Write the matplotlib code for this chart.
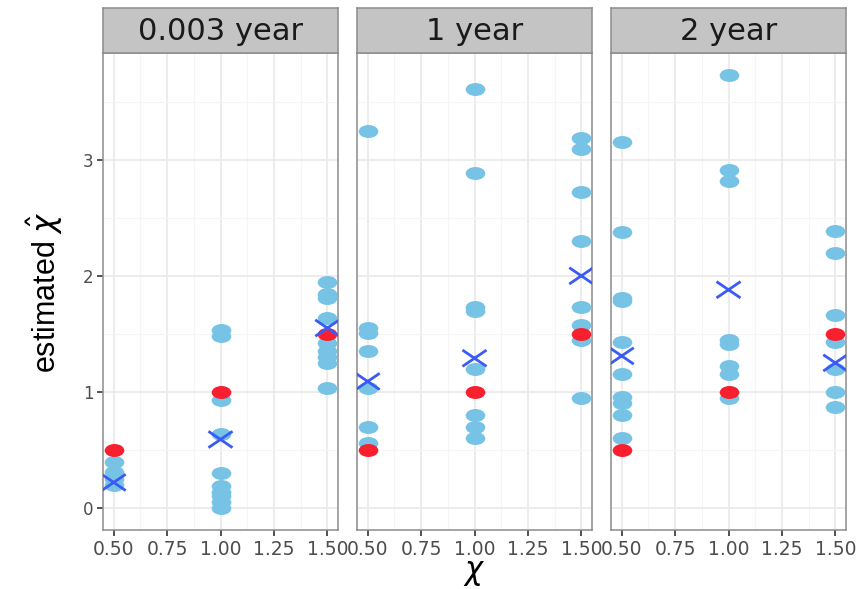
import matplotlib.pyplot as plt
from matplotlib.path import Path
import numpy as np

# facet labels and the true chi levels on the x axis
periods = ["0.003 year", "1 year", "2 year"]
chi_levels = [0.5, 1.0, 1.5]
x_ticks = [0.50, 0.75, 1.00, 1.25, 1.50]
x_ticklabels = ["0.50", "0.75", "1.00", "1.25", "1.50"]
y_ticks = [0, 1, 2, 3]

# estimated chi from each replicate, one list per chi level
est_0003 = [
    [0.40, 0.31, 0.25, 0.20],
    [1.53, 1.48, 0.93, 0.64, 0.30, 0.19, 0.14, 0.10, 0.05, 0.00],
    [1.95, 1.84, 1.81, 1.64, 1.42, 1.35, 1.30, 1.25, 1.03],
]
est_1 = [
    [3.25, 1.55, 1.51, 1.35, 1.03, 0.70, 0.56],
    [3.61, 2.89, 1.73, 1.70, 1.20, 0.80, 0.70, 0.60],
    [3.19, 3.09, 2.72, 2.30, 1.73, 1.58, 1.45, 0.95],
]
est_2 = [
    [3.15, 2.38, 1.81, 1.78, 1.43, 1.15, 0.96, 0.90, 0.80, 0.60],
    [3.73, 2.91, 2.82, 1.45, 1.41, 1.22, 1.15, 0.95],
    [2.39, 2.20, 1.66, 1.43, 1.20, 1.00, 0.87],
]
estimates = [est_0003, est_1, est_2]

# summary estimate (cross) per chi level
summary_0003 = [0.22, 0.59, 1.55]
summary_1 = [1.09, 1.29, 2.00]
summary_2 = [1.31, 1.88, 1.25]
summaries = [summary_0003, summary_1, summary_2]

# slightly flattened ellipse and cross markers
circ = Path.unit_circle()
ellipse = Path(circ.vertices * np.array([1.0, 0.66]), circ.codes)
cross = Path([(-1, -0.68), (1, 0.68), (-1, 0.68), (1, -0.68)],
             [Path.MOVETO, Path.LINETO, Path.MOVETO, Path.LINETO])

W, H = 857, 589
fig = plt.figure(figsize=(W / 100, H / 100), dpi=100)

lefts = [103, 357, 611]
pw = 235
top, bottom, strip_h = 53, 530, 45

for i, (period, est, summ) in enumerate(zip(periods, estimates, summaries)):
    ax = fig.add_axes([lefts[i] / W, 1 - bottom / H, pw / W, (bottom - top) / H])
    ax.set_xlim(0.45, 1.55)
    ax.set_ylim(-0.19, 3.92)
    ax.set_xticks(x_ticks)
    ax.set_xticklabels(x_ticklabels)
    ax.set_xticks([0.625, 0.875, 1.125, 1.375], minor=True)
    ax.set_yticks(y_ticks)
    ax.set_yticks([0.5, 1.5, 2.5, 3.5], minor=True)
    ax.grid(which="major", color="#EBEBEB", lw=1.3)
    ax.grid(which="minor", color="#F5F5F5", lw=0.8)
    ax.set_axisbelow(True)
    ax.tick_params(which="minor", length=0)
    ax.tick_params(which="major", length=4, width=1.2, color="#333333",
                   labelcolor="#4D4D4D")
    ax.tick_params(axis="x", labelsize=13.5, pad=3)
    ax.tick_params(axis="y", labelsize=12, pad=3)
    if i > 0:
        ax.tick_params(axis="y", left=False, labelleft=False)
    for s in ax.spines.values():
        s.set_color("#8C8C8C")
        s.set_linewidth(1.1)

    for chi, vals in zip(chi_levels, est):
        ax.scatter([chi] * len(vals), vals, marker=ellipse, s=200,
                   color="#76C3E6", lw=0, zorder=3)
    ax.scatter(chi_levels, chi_levels, marker=ellipse, s=200,
               color="#F8202E", lw=0, zorder=4)
    ax.scatter(chi_levels, summ, marker=cross, s=300, facecolor="none",
               edgecolor="#3A5BF5", lw=2.0, zorder=5)

    # facet strip
    sx = fig.add_axes([lefts[i] / W, 1 - top / H, pw / W, strip_h / H])
    sx.set_facecolor("#C4C4C4")
    sx.set_xticks([])
    sx.set_yticks([])
    for s in sx.spines.values():
        s.set_color("#8C8C8C")
        s.set_linewidth(1.1)
    sx.text(0.5, 0.47, period, ha="center", va="center", fontsize=22,
            color="#1A1A1A", transform=sx.transAxes)

fig.text(474 / W, 1 - 579 / H, r"$\chi$", ha="center", va="baseline",
         fontsize=22, color="black")
fig.text(45 / W, 1 - 292 / H, r"estimated $\hat{\chi}$", ha="center",
         va="center", rotation=90, fontsize=22, family="Liberation Sans",
         color="black")

fig.savefig("out.png", dpi=100)
